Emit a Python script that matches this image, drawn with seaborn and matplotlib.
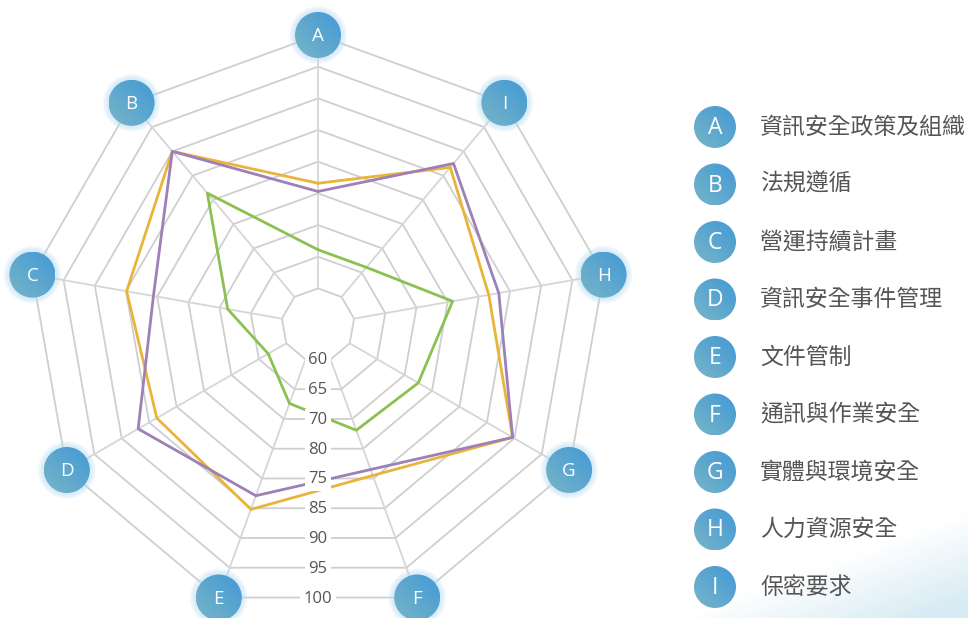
import numpy as np
import pandas as pd
import matplotlib
matplotlib.use('Agg')
import matplotlib.pyplot as plt
import seaborn as sns
from matplotlib.patches import Circle

# data
categories = ['A', 'B', 'C', 'D', 'E', 'F', 'G', 'H', 'I']
category_names = ['資訊安全政策及組織', '法規遵循', '營運持續計畫', '資訊安全事件管理', '文件管制',
                  '通訊與作業安全', '實體與環境安全', '人力資源安全', '保密要求']
ring_values = [60, 65, 70, 75, 80, 85, 90, 95, 100]
ring_labels = ['60', '65', '70', '80', '75', '85', '90', '95', '100']
yellow_values = [76.6, 90.0, 84.9, 83.6, 85.2, 79.5, 89.7, 81.6, 86.7]
purple_values = [75.3, 90.0, 80.6, 87.0, 82.9, 78.5, 89.7, 83.2, 87.5]
green_values = [66.1, 81.4, 68.7, 63.3, 67.4, 71.9, 72.5, 75.8, 66.1]

colors = {'green': '#8cc152', 'yellow': '#e9b43a', 'purple': '#9d80b8'}

sns.set_theme(style='white')
plt.rcParams['font.family'] = ['Noto Sans CJK TC', 'DejaVu Sans']

W, H = 968, 618
fig = plt.figure(figsize=(W / 100, H / 100), dpi=100)
fig.patch.set_facecolor('white')

# soft blue wash in the bottom right corner
bg = fig.add_axes([0, 0, 1, 1], zorder=0)
xx, yy = np.meshgrid(np.arange(W), np.arange(H))
d = ((xx - 690) * 98 + (yy - 618) * 268) / np.hypot(98, 268)
img = np.zeros((H, W, 4))
img[..., 0], img[..., 1], img[..., 2] = 0.84, 0.925, 0.955
img[..., 3] = np.clip((d + 5) / 85, 0, 1)
bg.imshow(img, extent=(0, W, H, 0), aspect='auto')
bg.set_xlim(0, W)
bg.set_ylim(H, 0)
bg.axis('off')

# radar
cx, cy, R = 318, 325, 290
ax = fig.add_axes([(cx - R) / W, (H - cy - R) / H, 2 * R / W, 2 * R / H],
                  projection='polar', zorder=1)
ax.set_facecolor('none')
ax.set_theta_offset(np.pi / 2)
angles = np.deg2rad(np.arange(len(categories)) * 40.0)
closed = np.append(angles, angles[0])

for v in ring_values:
    ax.plot(closed, [v] * len(closed), color='#cfcfcf', lw=1.3, zorder=1)
for a in angles:
    ax.plot([a, a], [ring_values[0], ring_values[-1]], color='#d6d6d6', lw=1.3, zorder=1)

rows = []
for name, vals in [('green', green_values), ('yellow', yellow_values), ('purple', purple_values)]:
    for k in range(len(categories) + 1):
        rows.append({'series': name, 'theta': angles[k % 9], 'value': vals[k % 9]})
df = pd.DataFrame(rows)
sns.lineplot(data=df, x='theta', y='value', hue='series', hue_order=['green', 'yellow', 'purple'],
             palette=colors, sort=False, estimator=None, legend=False, lw=2.0, ax=ax, zorder=3)

ax.set_ylim(54.22, 100)
ax.set_xticks([])
ax.set_yticks([])
ax.set_xlabel('')
ax.set_ylabel('')
ax.grid(False)
ax.spines['polar'].set_visible(False)

# overlay in pixel coordinates
ov = fig.add_axes([0, 0, 1, 1], zorder=2)
ov.set_xlim(0, W)
ov.set_ylim(H, 0)
ov.axis('off')
ov.patch.set_alpha(0)


def to_px(theta, r):
    x, y = ax.transData.transform((theta, r))
    return x, H - y


g = np.linspace(0, 1, 80)
gx, gy = np.meshgrid(g, g)
t = (gx + (1 - gy)) / 2
c1 = np.array([0.26, 0.60, 0.84])
c2 = np.array([0.47, 0.71, 0.78])
grad = c2[None, None, :] * (1 - t[..., None]) + c1[None, None, :] * t[..., None]


def badge(x, y, r, letter, size, glow=True):
    if glow:
        for k in range(6, 0, -1):
            ov.add_patch(Circle((x, y), r + k, color='#b8def6', alpha=0.12, lw=0, zorder=3))
    circ = Circle((x, y), r, transform=ov.transData, facecolor='none', lw=0)
    ov.add_patch(circ)
    im = ov.imshow(grad, extent=(x - r, x + r, y + r, y - r), zorder=4, aspect='auto')
    im.set_clip_path(circ)
    ov.text(x, y + 1, letter, ha='center', va='center', color='white', fontsize=size,
            family=['Open Sans', 'DejaVu Sans'], zorder=5)


for a, c in zip(angles, categories):
    x, y = to_px(a, ring_values[-1])
    badge(x, y, 23, c, 13.5)

# ring labels on the bottom edge
for v, lab in zip(ring_values, ring_labels):
    x1, y1 = to_px(angles[4], v)
    x2, y2 = to_px(angles[5], v)
    ov.text((x1 + x2) / 2, (y1 + y2) / 2 + 1, lab, ha='center', va='center', color='#555555',
            fontsize=12, family=['Open Sans', 'DejaVu Sans'], zorder=5,
            bbox=dict(boxstyle='square,pad=0.2', fc='white', ec='none'))

# legend
for i, (c, name) in enumerate(zip(categories, category_names)):
    y = 127 + 57.5 * i
    badge(715, y, 21, c, 16.5, glow=False)
    ov.text(760, y, name, ha='left', va='center', color='#555555', fontsize=16.5, zorder=5)

ov.set_xlim(0, W)
ov.set_ylim(H, 0)
fig.savefig('out.png', dpi=100)
